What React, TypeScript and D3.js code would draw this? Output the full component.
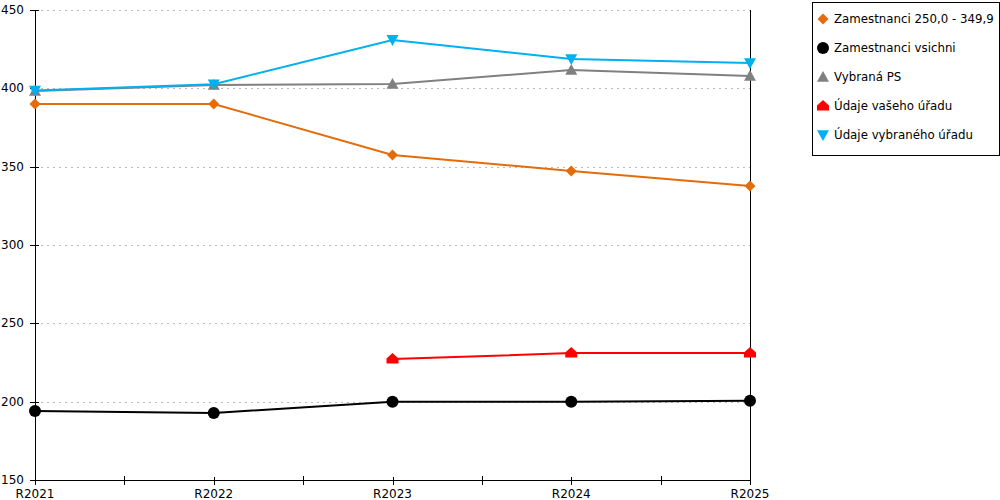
import React from "react";
import * as d3 from "d3";

const years = ["R2021", "R2022", "R2023", "R2024", "R2025"];
const yTicks = [150, 200, 250, 300, 350, 400, 450];

const orangeValues = [390, 390, 357.5, 347.2, 337.7];
const blackValues = [194, 192.8, 200, 200, 200.6];
const grayValues = [398.3, 402.2, 402.8, 411.7, 407.9];
const redValues: (number | null)[] = [null, null, 227.2, 231, 231];
const blueValues = [398.6, 402.6, 430.9, 418.7, 416.2];

type Shape = "diamond" | "circle" | "triangleUp" | "house" | "triangleDown";

const seriesNames = [
  "Zamestnanci 250,0 - 349,9",
  "Zamestnanci vsichni",
  "Vybraná PS",
  "Údaje vašeho úřadu",
  "Údaje vybraného úřadu",
];
const seriesColors = ["#e46c0a", "#000000", "#808080", "#ff0000", "#00b0f0"];
const seriesShapes: Shape[] = ["diamond", "circle", "triangleUp", "house", "triangleDown"];
const seriesValues: (number | null)[][] = [orangeValues, blackValues, grayValues, redValues, blueValues];

const margin = { left: 35, top: 10, right: 250, bottom: 20 };
const width = 1000;
const height = 500;

function marker(shape: Shape, s: number) {
  switch (shape) {
    case "diamond":
      return `M0,${-s}L${s},0L0,${s}L${-s},0Z`;
    case "circle":
      return d3.symbol(d3.symbolCircle, Math.PI * s * s)() || "";
    case "triangleUp":
      return `M0,${-s}L${s},${s * 0.8}L${-s},${s * 0.8}Z`;
    case "triangleDown":
      return `M0,${s}L${s},${-s * 0.8}L${-s},${-s * 0.8}Z`;
    case "house":
      return `M0,${-s}L${s},${-s * 0.1}L${s},${s * 0.75}L${-s},${s * 0.75}L${-s},${-s * 0.1}Z`;
  }
}

const markerSize: Record<Shape, number> = {
  diamond: 5.5,
  circle: 6,
  triangleUp: 6,
  house: 6,
  triangleDown: 6,
};

export default function App() {
  const x = d3
    .scalePoint<string>()
    .domain(years)
    .range([margin.left, width - margin.right]);
  const y = d3
    .scaleLinear()
    .domain([150, 450])
    .range([height - margin.bottom, margin.top]);

  const x0 = margin.left;
  const x1 = width - margin.right;
  const yBottom = y(150);

  const line = d3
    .line<number | null>()
    .defined((d) => d !== null)
    .x((_, i) => x(years[i]) as number)
    .y((d) => y(d as number));

  const minorTicks = years.slice(1).map((yr, i) => ((x(years[i]) as number) + (x(yr) as number)) / 2);

  return (
    <svg
      width={width}
      height={height}
      style={{ position: "absolute", left: 0, top: 0, fontFamily: "DejaVu Sans, Verdana, sans-serif" }}
    >
      <rect width={width} height={height} fill="#fff" />
      {/* grid */}
      {yTicks.map((t) => (
        <line
          key={"g" + t}
          x1={x0}
          x2={x1}
          y1={Math.round(y(t)) + 0.5}
          y2={Math.round(y(t)) + 0.5}
          stroke="#bbb"
          strokeDasharray="2 4"
        />
      ))}
      {/* y axis */}
      <line x1={x0 + 0.5} x2={x0 + 0.5} y1={margin.top} y2={yBottom} stroke="#000" />
      <line x1={x1 + 0.5} x2={x1 + 0.5} y1={margin.top} y2={yBottom} stroke="#000" />
      {yTicks.map((t) => (
        <g key={"y" + t}>
          <line x1={x0 - 5} x2={x0 + 4} y1={Math.round(y(t)) + 0.5} y2={Math.round(y(t)) + 0.5} stroke="#000" />
          <text x={x0 - 11} y={y(t) + 4} textAnchor="end" fontSize={12} fill="#000">
            {t}
          </text>
        </g>
      ))}
      {/* x axis */}
      <line x1={x0} x2={x1 + 1} y1={Math.round(yBottom) + 0.5} y2={Math.round(yBottom) + 0.5} stroke="#000" />
      {years.map((yr) => (
        <g key={yr}>
          <line
            x1={Math.round(x(yr) as number) + 0.5}
            x2={Math.round(x(yr) as number) + 0.5}
            y1={yBottom - 3}
            y2={yBottom + 5}
            stroke="#000"
          />
          <text x={x(yr) as number} y={yBottom + 18} textAnchor="middle" fontSize={12} fill="#000">
            {yr}
          </text>
        </g>
      ))}
      {minorTicks.map((mx, i) => (
        <line
          key={"m" + i}
          x1={Math.round(mx) + 0.5}
          x2={Math.round(mx) + 0.5}
          y1={yBottom - 4}
          y2={yBottom + 5}
          stroke="#000"
        />
      ))}
      {/* series */}
      {seriesValues.map((vals, si) => (
        <g key={seriesNames[si]}>
          <path d={line(vals) || ""} fill="none" stroke={seriesColors[si]} strokeWidth={2} />
          {vals.map((v, i) =>
            v === null ? null : (
              <path
                key={i}
                transform={`translate(${x(years[i])},${y(v)})`}
                d={marker(seriesShapes[si], markerSize[seriesShapes[si]])}
                fill={seriesColors[si]}
              />
            )
          )}
        </g>
      ))}
      {/* legend */}
      <rect x={812.5} y={2.5} width={187} height={153} fill="#fff" stroke="#000" />
      {seriesNames.map((name, i) => (
        <g key={"l" + name} transform={`translate(823,${19 + i * 29})`}>
          <path d={marker(seriesShapes[i], markerSize[seriesShapes[i]])} fill={seriesColors[i]} />
          <text x={11} y={4} fontSize={11.8} fill="#000">
            {name}
          </text>
        </g>
      ))}
    </svg>
  );
}
